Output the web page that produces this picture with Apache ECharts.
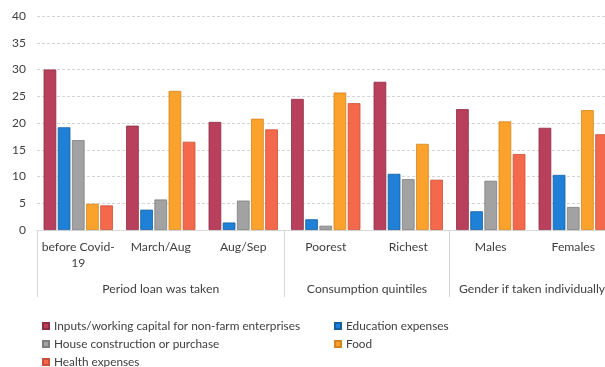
<!DOCTYPE html>
<html>
<head>
<meta charset="utf-8">
<script src="https://cdn.jsdelivr.net/npm/echarts@6/dist/echarts.min.js"></script>
<style>
  html, body { margin: 0; padding: 0; background: #fff; overflow: hidden; }
  #chart { width: 625px; height: 385px; }
</style>
</head>
<body>
<div id="chart"></div>
<script>
// Loan purpose shares (%) by period, consumption quintile and gender
const categories = ['before Covid-\n19', 'March/Aug', 'Aug/Sep', 'Poorest', 'Richest', 'Males', 'Females'];
const groupNames = ['Period loan was taken', 'Consumption quintiles', 'Gender if taken individually'];
const groupSpans = [3, 2, 2];

const seriesNames = [
  'Inputs/working capital for non-farm enterprises',
  'Education expenses',
  'House construction or purchase',
  'Food',
  'Health expenses'
];
const inputsCapital = [30.0, 19.5, 20.2, 24.5, 27.7, 22.6, 19.1];
const education     = [19.2, 3.8, 1.4, 2.0, 10.5, 3.5, 10.3];
const house         = [16.8, 5.7, 5.5, 0.8, 9.5, 9.2, 4.3];
const food          = [4.9, 26.0, 20.8, 25.7, 16.1, 20.3, 22.4];
const health        = [4.6, 16.5, 18.8, 23.7, 9.4, 14.2, 17.9];
const yTicks = [0, 5, 10, 15, 20, 25, 30, 35, 40];

const colors  = ['#b9405c', '#1f80d8', '#a2a2a2', '#fba22c', '#f4684b'];
const borders = ['#8f2c44', '#17609f', '#7d7d7d', '#d3861f', '#c9513a'];
const values  = [inputsCapital, education, house, food, health];

// group boundaries and centres on a 0..N value scale aligned with the categories
const bounds = [0];
groupSpans.forEach(s => bounds.push(bounds[bounds.length - 1] + s));
const centres = groupSpans.map((s, i) => bounds[i] + s / 2);

const font = 'Lato, "Open Sans", sans-serif';
const txt = '#404040';

const legendBase = {
  top: 315, orient: 'vertical', itemGap: 6, height: 70,
  itemWidth: 6, itemHeight: 6, icon: 'rect',
  textStyle: { fontFamily: font, fontSize: 11.8, color: txt }
};

const chart = echarts.init(document.getElementById('chart'));
chart.setOption({
  animation: false,
  color: colors,
  grid: { left: 37, right: 10.5, top: 16, bottom: 155 },
  legend: [
    Object.assign({ left: 37, data: [seriesNames[0], seriesNames[2], seriesNames[4]] }, legendBase),
    Object.assign({ left: 329, data: [seriesNames[1], seriesNames[3]] }, legendBase)
  ],
  xAxis: [
    {
      type: 'category',
      data: categories,
      axisLine: { show: true, lineStyle: { color: '#d9d9d9' } },
      axisTick: { show: false },
      axisLabel: { margin: 9, fontFamily: font, fontSize: 12.2, color: txt, lineHeight: 16, interval: 0 }
    },
    {
      type: 'value',
      min: 0, max: bounds[bounds.length - 1],
      position: 'bottom',
      offset: 67,
      splitLine: { show: false },
      axisLine: { show: false },
      axisTick: {
        show: true, inside: true, length: 67,
        customValues: bounds,
        lineStyle: { color: '#d6d6d6' }
      },
      axisLabel: {
        inside: true, margin: 2,
        customValues: centres,
        formatter: v => groupNames[centres.indexOf(v)],
        fontFamily: font, fontSize: 12.2, color: txt
      }
    }
  ],
  yAxis: {
    type: 'value',
    min: yTicks[0], max: yTicks[yTicks.length - 1], interval: 5,
    axisLine: { show: false },
    axisTick: { show: false },
    axisLabel: { margin: 11, fontFamily: font, fontSize: 12, color: txt },
    splitLine: { show: true, lineStyle: { color: '#d4d4d4', type: [3, 2] } }
  },
  series: seriesNames.map((name, i) => ({
    name,
    type: 'bar',
    xAxisIndex: 0,
    data: values[i],
    barGap: '12%',
    barCategoryGap: '16%',
    itemStyle: { color: colors[i], borderColor: borders[i], borderWidth: 0.8 }
  }))
});
</script>
</body>
</html>
